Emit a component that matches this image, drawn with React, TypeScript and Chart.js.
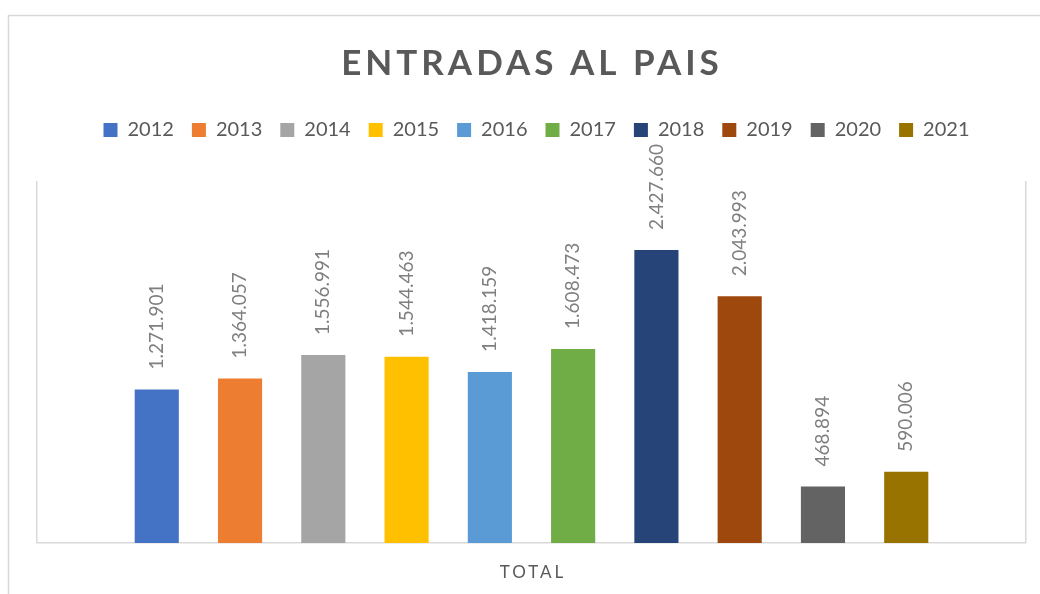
import React, { useEffect, useRef } from "react";
import { Chart, registerables } from "chart.js";

Chart.register(...registerables);

const categories = ["TOTAL"];
const seriesNames = ["2012", "2013", "2014", "2015", "2016", "2017", "2018", "2019", "2020", "2021"];
const seriesValues = [1271901, 1364057, 1556991, 1544463, 1418159, 1608473, 2427660, 2043993, 468894, 590006];
const seriesColors = ["#4472C4", "#ED7D31", "#A5A5A5", "#FFC000", "#5B9BD5", "#70AD47", "#264478", "#9E480E", "#636363", "#997300"];
const chartTitle = "ENTRADAS AL PAIS";
const yMax = 3000000;

const FONT = "Lato, 'Open Sans', sans-serif";

function fmt(v: number): string {
  return String(Math.round(v)).replace(/\B(?=(\d{3})+(?!\d))/g, ".");
}

const customDraw = {
  id: "customDraw",
  afterLayout(chart: any) {
    if (chart.legend) {
      chart.legend.left += 5;
      chart.legend.right += 5;
    }
  },
  beforeDraw(chart: any) {
    const ctx = chart.ctx;
    ctx.save();
    ctx.fillStyle = "#ffffff";
    ctx.fillRect(0, 0, chart.width, chart.height);
    ctx.strokeStyle = "#d9d9d9";
    ctx.lineWidth = 1.5;
    ctx.beginPath();
    ctx.moveTo(8.5, chart.height);
    ctx.lineTo(8.5, 15.5);
    ctx.lineTo(chart.width, 15.5);
    ctx.stroke();
    // title
    ctx.fillStyle = "#595959";
    ctx.font = `bold 35px ${FONT}`;
    (ctx as any).letterSpacing = "4px";
    ctx.textAlign = "center";
    ctx.textBaseline = "alphabetic";
    ctx.fillText(chartTitle, 530 + 2, 75);
    ctx.restore();
  },
  afterDraw(chart: any) {
    const ctx = chart.ctx;
    const xScale = chart.scales.x;
    ctx.save();
    ctx.fillStyle = "#595959";
    ctx.font = `17px ${FONT}`;
    (ctx as any).letterSpacing = "3px";
    ctx.textAlign = "center";
    ctx.textBaseline = "alphabetic";
    categories.forEach((c, i) => {
      ctx.fillText(c, xScale.getPixelForTick(i) + 1.5, 578);
    });
    ctx.restore();
  },
  afterDatasetsDraw(chart: any) {
    const ctx = chart.ctx;
    ctx.save();
    ctx.fillStyle = "#7f7f7f";
    ctx.font = `19px ${FONT}`;
    ctx.textAlign = "left";
    ctx.textBaseline = "middle";
    chart.data.datasets.forEach((ds: any, di: number) => {
      const meta = chart.getDatasetMeta(di);
      meta.data.forEach((el: any, i: number) => {
        ctx.save();
        ctx.translate(el.x, el.y - 20);
        ctx.rotate(-Math.PI / 2);
        ctx.fillText(fmt(ds.data[i]), 0, 0);
        ctx.restore();
      });
    });
    ctx.restore();
  },
};

export default function App() {
  const ref = useRef<HTMLCanvasElement | null>(null);
  useEffect(() => {
    if (!ref.current) return;
    const chart = new Chart(ref.current, {
      type: "bar",
      data: {
        labels: categories,
        datasets: seriesNames.map((name, i) => ({
          label: name,
          data: [seriesValues[i]],
          backgroundColor: seriesColors[i],
          borderWidth: 0,
          barPercentage: 0.53,
          categoryPercentage: 0.842,
        })),
      },
      options: {
        animation: false,
        responsive: false,
        maintainAspectRatio: false,
        events: [],
        layout: { padding: { top: 102, left: 37, right: 14, bottom: 51 } },
        plugins: {
          title: { display: false },
          subtitle: {
            display: true,
            text: "",
            weight: 100,
            position: "top",
            font: { size: 10, lineHeight: 1 },
            padding: { top: 21, bottom: 0 },
          },
          legend: {
            display: true,
            position: "top",
            labels: {
              boxWidth: 14,
              boxHeight: 14,
              padding: 18,
              color: "#595959",
              font: { family: FONT, size: 20 },
            },
          },
          tooltip: { enabled: false },
        },
        scales: {
          x: {
            display: true,
            grid: {
              display: true,
              offset: true,
              color: "#d9d9d9",
              lineWidth: 1.5,
              drawTicks: false,
            },
            border: { display: true, color: "#d9d9d9", width: 1.5 },
            ticks: { display: false },
          },
          y: {
            display: false,
            min: 0,
            max: yMax,
          },
        },
      } as any,
      plugins: [customDraw],
    });
    return () => chart.destroy();
  }, []);
  return (
    <div style={{ position: "fixed", left: 0, top: 0, width: 1040, height: 594 }}>
      <canvas ref={ref} width={1040} height={594} style={{ display: "block", width: 1040, height: 594 }} />
    </div>
  );
}
